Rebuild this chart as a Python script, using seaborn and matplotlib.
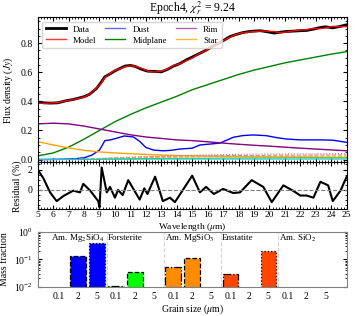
import numpy as np
import pandas as pd
import matplotlib
matplotlib.use("Agg")
import matplotlib.pyplot as plt
from matplotlib.ticker import MultipleLocator, LogLocator, NullFormatter
import seaborn as sns

# ---- spectrum ----
wave_data = [5.0, 5.4, 5.8, 6.3, 6.87, 7.3, 7.7, 8.0, 8.36, 8.8, 9.1, 9.35, 9.7, 10.0,
             10.3, 10.65, 11.0, 11.3, 11.7, 12.1, 12.5, 13.0, 13.4, 13.8, 14.2, 14.6,
             15.0, 15.5, 15.9, 16.3, 16.8, 17.45, 17.9, 18.3, 18.8, 19.4, 19.8, 20.3,
             20.7, 21.1, 21.5, 22.0, 22.4, 22.85, 23.2, 23.6, 24.1, 24.5, 25.0]
flux_data = [0.395, 0.39, 0.388, 0.39, 0.405, 0.413, 0.424, 0.432, 0.449, 0.488, 0.53,
             0.569, 0.59, 0.61, 0.625, 0.643, 0.647, 0.641, 0.622, 0.608, 0.606, 0.603,
             0.62, 0.643, 0.66, 0.684, 0.705, 0.731, 0.752, 0.777, 0.805, 0.846, 0.862,
             0.874, 0.882, 0.886, 0.88, 0.87, 0.876, 0.881, 0.883, 0.886, 0.888, 0.897,
             0.906, 0.913, 0.906, 0.914, 0.927]
flux_model = [0.388, 0.386, 0.389, 0.392, 0.404, 0.413, 0.423, 0.43, 0.45, 0.492, 0.524,
              0.565, 0.593, 0.613, 0.624, 0.639, 0.644, 0.642, 0.627, 0.61, 0.601, 0.608,
              0.623, 0.648, 0.659, 0.68, 0.697, 0.733, 0.75, 0.779, 0.805, 0.843, 0.862,
              0.874, 0.878, 0.884, 0.883, 0.88, 0.873, 0.877, 0.884, 0.891, 0.893, 0.902,
              0.9, 0.905, 0.916, 0.914, 0.915]

wave_grid = [5, 6, 7, 8, 9, 10, 11, 12, 13, 14, 15, 16, 17, 18, 19, 20, 21, 22, 23, 24, 25]
flux_midplane = [0.025, 0.045, 0.085, 0.14, 0.2, 0.26, 0.31, 0.355, 0.395, 0.435, 0.48,
                 0.515, 0.55, 0.585, 0.615, 0.64, 0.665, 0.685, 0.705, 0.725, 0.742]
flux_rim = [0.245, 0.25, 0.245, 0.23, 0.21, 0.19, 0.17, 0.155, 0.145, 0.135, 0.13,
            0.122, 0.113, 0.105, 0.098, 0.092, 0.085, 0.078, 0.072, 0.066, 0.06]
flux_star = [0.123, 0.1, 0.08, 0.063, 0.052, 0.045, 0.04, 0.035, 0.031, 0.028, 0.026,
             0.024, 0.022, 0.02, 0.019, 0.018, 0.017, 0.016, 0.015, 0.014, 0.013]

wave_dust = [5.0, 6.0, 7.0, 7.5, 8.0, 8.5, 9.0, 9.35, 9.7, 10.0, 10.6, 11.2, 11.6, 12.0,
             12.5, 13.1, 13.6, 14.2, 15.0, 15.5, 16.0, 16.8, 17.66, 18.3, 18.96, 19.8,
             20.5, 21.1, 22.0, 23.3, 24.1, 25.0]
flux_dust = [0.0, 0.001, 0.003, 0.006, 0.012, 0.03, 0.065, 0.13, 0.135, 0.143, 0.162,
             0.155, 0.125, 0.083, 0.065, 0.06, 0.063, 0.072, 0.078, 0.1, 0.105, 0.113,
             0.153, 0.165, 0.169, 0.164, 0.15, 0.141, 0.135, 0.135, 0.133, 0.118]

# individual dust species (faint lines near zero)
comp_mg2sio4_5 = [0.0, 0.0, 0.001, 0.003, 0.008, 0.012, 0.016, 0.02, 0.024, 0.027, 0.03,
                  0.032, 0.034, 0.036, 0.037, 0.038, 0.038, 0.039, 0.039, 0.04, 0.04]
comp_enst_5 = [0.0, 0.0, 0.001, 0.002, 0.006, 0.01, 0.014, 0.018, 0.02, 0.022, 0.024,
               0.025, 0.027, 0.028, 0.028, 0.029, 0.03, 0.03, 0.031, 0.031, 0.032]
comp_mgsio3_2 = [0.0, 0.0, 0.001, 0.002, 0.005, 0.008, 0.011, 0.013, 0.015, 0.016, 0.018,
                 0.019, 0.02, 0.021, 0.021, 0.022, 0.022, 0.023, 0.023, 0.023, 0.024]
comp_forst_2 = [0.0, 0.0, 0.0, 0.001, 0.002, 0.004, 0.005, 0.006, 0.007, 0.008, 0.009,
                0.009, 0.01, 0.01, 0.011, 0.011, 0.011, 0.012, 0.012, 0.012, 0.012]
comp_cyan = [0.0, 0.0, 0.0, 0.0, 0.001, 0.002, 0.002, 0.003, 0.003, 0.003, 0.003,
             0.003, 0.003, 0.003, 0.003, 0.003, 0.003, 0.003, 0.003, 0.003, 0.003]

# ---- residual (%) ----
wave_res = [5.0, 5.37, 5.8, 6.23, 6.66, 7.3, 7.74, 7.95, 8.4, 8.92, 9.0, 9.14, 9.47, 9.68,
            10.0, 10.2, 10.5, 10.86, 11.6, 11.9, 12.1, 12.6, 13.1, 13.56, 13.88, 14.4,
            15.0, 15.5, 15.9, 16.4, 17.0, 17.66, 18.1, 18.85, 19.6, 20.15, 20.9, 21.55,
            22.0, 22.4, 22.85, 23.3, 23.8, 24.1, 24.6, 25.0]
residual = [2.0, 1.14, -0.24, -1.1, -0.6, -0.07, -0.24, 0.6, -0.07, -1.1, -1.7, 2.2,
            -0.24, 0.3, -0.76, 0.0, -0.5, 0.96, -0.95, 0.15, -0.4, 1.3, -1.1, -0.76, -1.2,
            0.0, 1.4, -0.24, 0.3, -0.4, 0.1, -0.3, -0.24, 0.96, 0.3, -1.2, 0.45, -0.1,
            -0.55, -0.55, -0.76, 0.8, 0.45, -1.1, -0.07, 1.3]

# ---- mass fractions ----
species = ["Am. Mg$_2$SiO$_4$", "Forsterite", "Am. MgSiO$_3$", "Enstatite", "Am. SiO$_2$"]
species_colors = ["#0000ff", "#00ff00", "#ff8c00", "#ff4500", "#8b0000"]
grain_sizes = ["0.1", "2", "5"]
mass_frac = [[0.0, 0.13, 0.39],
             [0.0106, 0.035, 0.0],
             [0.054, 0.11, 0.0],
             [0.029, 0.0, 0.2],
             [0.0, 0.0, 0.0]]

chi2 = 9.24

plt.rcParams["font.family"] = ["Liberation Serif", "DejaVu Serif"]
plt.rcParams["mathtext.fontset"] = "stix"
plt.rcParams["font.size"] = 7

fig = plt.figure(figsize=(3.57, 3.16), dpi=100)
ax1 = fig.add_axes([0.1056, 0.486, 0.8655, 0.46])
ax2 = fig.add_axes([0.1056, 0.3377, 0.8655, 0.1483], sharex=ax1)
ax3 = fig.add_axes([0.1056, 0.0927, 0.8655, 0.1733])

# top: SED
sns.lineplot(x=wave_data, y=flux_data, ax=ax1, color="black", lw=2, label="Data")
sns.lineplot(x=wave_data, y=flux_model, ax=ax1, color="red", lw=1.0, label="Model")
sns.lineplot(x=wave_dust, y=flux_dust, ax=ax1, color="blue", lw=1.0, label="Dust")
sns.lineplot(x=wave_grid, y=flux_midplane, ax=ax1, color="green", lw=1.0, label="Midplane")
sns.lineplot(x=wave_grid, y=flux_rim, ax=ax1, color="purple", lw=1.0, label="Rim")
sns.lineplot(x=wave_grid, y=flux_star, ax=ax1, color="orange", lw=1.0, label="Star")
for comp, col, ls in [(comp_mg2sio4_5, "#8080ff", ":"), (comp_enst_5, "#ff8060", "--"),
                      (comp_mgsio3_2, "#ffa040", "--"), (comp_forst_2, "#60c040", "-"),
                      (comp_cyan, "#00d0d0", "-")]:
    sns.lineplot(x=wave_grid, y=comp, ax=ax1, color=col, lw=0.8, ls=ls, legend=False)

leg = ax1.legend(loc="upper left", ncol=3, fontsize=6.5, handlelength=2.2,
                 columnspacing=1.0, labelspacing=0.3, borderpad=0.4, fancybox=True)
for h, a in zip(leg.get_lines(), [1, 0.8, 0.6, 1, 0.6, 0.8]):
    h.set_alpha(a)
ax1.set_xlim(5, 25)
ax1.set_ylim(-0.02, 0.98)
ax1.set_ylabel("Flux density ($Jy$)")
ax1.set_title(rf"Epoch4, $\chi_r^2$ = {chi2:.2f}", fontsize=8.5, pad=2)
ax1.yaxis.set_major_locator(MultipleLocator(0.2))
ax1.yaxis.set_minor_locator(MultipleLocator(0.05))
ax1.xaxis.set_minor_locator(MultipleLocator(0.2))
ax1.tick_params(labelbottom=False)

# residual
sns.lineplot(x=wave_res, y=residual, ax=ax2, color="black", lw=1.5)
ax2.axhline(0, color="gray", ls="--", lw=0.8)
ax2.set_ylim(-1.9, 2.7)
ax2.set_ylabel("Residual (%)")
ax2.set_xlabel("Wavelength ($\\mu$m)", fontsize=6.8)
ax2.xaxis.set_label_coords(0.5, -0.255)
ax2.xaxis.set_major_locator(MultipleLocator(1))
ax2.xaxis.set_minor_locator(MultipleLocator(0.2))
ax2.yaxis.set_major_locator(MultipleLocator(2))
ax2.yaxis.set_minor_locator(MultipleLocator(0.5))

for ax in (ax1, ax2):
    ax.tick_params(which="both", direction="in", top=True, right=True, labelsize=7)
    ax.tick_params(which="major", length=3)
    ax.tick_params(which="minor", length=1.5)
ax2.tick_params(axis="x", pad=1.5, labelsize=6.8)

# bottom: mass fractions
rows = []
for s, col, fr in zip(species, species_colors, mass_frac):
    for g, v in zip(grain_sizes, fr):
        rows.append({"key": f"{s}|{g}", "size": g, "frac": v, "color": col})
df = pd.DataFrame(rows)
sns.barplot(data=df, x="key", y="frac", hue="key", palette=dict(zip(df["key"], df["color"])),
            ax=ax3, legend=False, width=0.82, saturation=1, log_scale=(False, True))
edge_ls = {"0.1": "-.", "2": "--", "5": ":"}
for p, g in zip(ax3.patches, df["size"]):
    p.set_edgecolor("black")
    p.set_linewidth(0.9)
    p.set_linestyle(edge_ls[g])
ax3.set_yscale("log")
ax3.set_ylim(1e-2, 1)
ax3.set_xlim(-1.13, 15.12)
ax3.set_xticks(range(len(df)))
ax3.set_xticklabels(df["size"])
for k in range(1, len(species)):
    ax3.axvline(3 * k - 0.5, color="lightgray", ls="--", lw=0.8, zorder=0)
for k, s in enumerate(species):
    ax3.text(3 * k - 0.45, 0.6, s, fontsize=6.5, ha="left", va="center")
ax3.set_xlabel("Grain size ($\\mu$m)", labelpad=1)
ax3.set_ylabel("Mass fraction")
ax3.yaxis.set_major_locator(LogLocator(base=10, numticks=5))
ax3.yaxis.set_minor_locator(LogLocator(base=10, subs=np.arange(2, 10), numticks=10))
ax3.yaxis.set_minor_formatter(NullFormatter())
ax3.tick_params(which="both", direction="in", right=True, labelsize=7)
ax3.tick_params(axis="x", length=0, pad=4)
ax3.tick_params(which="major", axis="y", length=3)
ax3.tick_params(which="minor", axis="y", length=1.5)
for sp in ax3.spines.values():
    sp.set_color("gray")

fig.align_ylabels([ax1, ax2, ax3])
fig.savefig("out.png", dpi=100)
